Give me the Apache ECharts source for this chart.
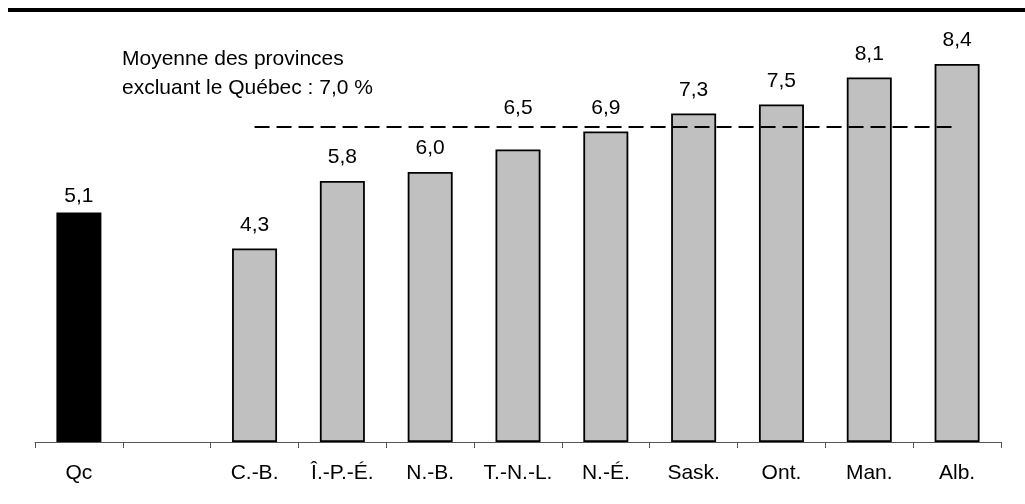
<!DOCTYPE html>
<html>
<head>
<meta charset="utf-8">
<script src="https://cdn.jsdelivr.net/npm/echarts@6/dist/echarts.min.js"></script>
<style>
  html, body { margin: 0; padding: 0; background: #fff; }
  #chart { width: 1025px; height: 504px; }
</style>
</head>
<body>
<div id="chart"></div>
<script>
// provinces, Qc first then an empty slot, then the others sorted
const categories = ["Qc", "", "C.-B.", "Î.-P.-É.", "N.-B.", "T.-N.-L.", "N.-É.", "Sask.", "Ont.", "Man.", "Alb."];
const values = [5.1, null, 4.3, 5.8, 6.0, 6.5, 6.9, 7.3, 7.5, 8.1, 8.4];
const average = 7.0;
const averageText = ["Moyenne des provinces", "excluant le Québec : 7,0 %"];

const fmt = v => v.toFixed(1).replace(".", ",");
const font = "Arial, 'Liberation Sans', sans-serif";

// label gap above the bar; Qc sits closer, T.-N.-L. is lifted over the dashed line
const labelGap = name => (name === "Qc" ? 6 : name === "T.-N.-L." ? 31 : 13);

const barData = values.map((v, i) => ({
  value: v,
  itemStyle: { color: categories[i] === "Qc" ? "#000" : "#c0c0c0" },
  label: { distance: labelGap(categories[i]) }
}));

const chart = echarts.init(document.getElementById("chart"));
chart.setOption({
  animation: false,
  grid: { left: 35, right: 24, top: 37, bottom: 62 },
  xAxis: {
    type: "category",
    data: categories,
    axisLine: { lineStyle: { color: "#555", width: 1 } },
    axisTick: { show: true, interval: 0, length: 6, lineStyle: { color: "#555" } },
    axisLabel: { interval: 0, margin: 21, color: "#000", fontSize: 21, fontFamily: font }
  },
  yAxis: {
    type: "value",
    min: 0,
    max: 9,
    show: false,
    splitLine: { show: false }
  },
  graphic: [
    {
      type: "rect",
      shape: { x: 8, y: 8, width: 1017, height: 4 },
      style: { fill: "#000" }
    },
    {
      type: "text",
      left: 122,
      top: 45,
      style: {
        text: averageText.join("\n"),
        fontSize: 21,
        fontFamily: font,
        lineHeight: 29,
        fill: "#000"
      }
    }
  ],
  series: [
    {
      type: "bar",
      data: barData,
      barWidth: 45,
      itemStyle: { borderColor: "#000", borderWidth: 1.8 },
      label: {
        show: true,
        position: "top",
        color: "#000",
        fontSize: 21,
        fontFamily: font,
        formatter: p => (p.value == null ? "" : fmt(p.value))
      },
      markLine: {
        silent: true,
        symbol: "none",
        label: { show: false },
        lineStyle: { color: "#000", width: 2, type: [15, 7] },
        data: [[{ coord: ["C.-B.", average] }, { coord: ["Alb.", average] }]]
      }
    }
  ]
});
</script>
</body>
</html>
